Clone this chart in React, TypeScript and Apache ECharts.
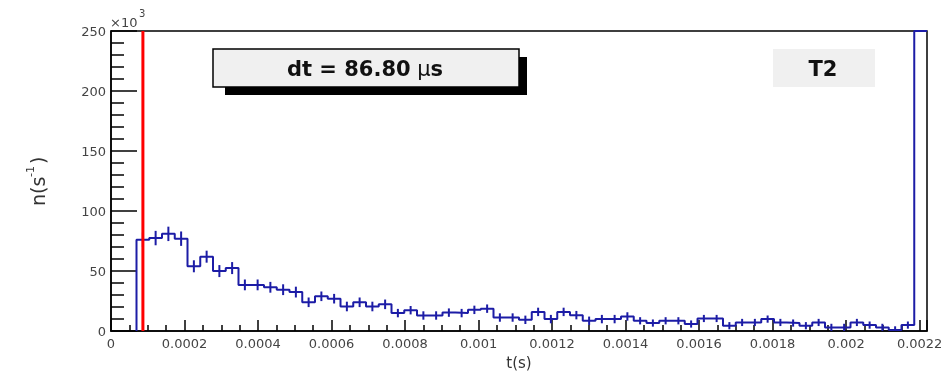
import React, { useEffect, useRef } from "react";
import * as echarts from "echarts";

// Histogram definition (x in seconds, y in units of 10^3 s^-1)
const xMin = 0;
const xMax = 0.00222;
const binCount = 64;

// bin contents (×10^3), bins 0..63
const counts = [
  0, 0, 76, 77.5, 81, 77, 54, 62, 50, 52.5,
  38.5, 38.5, 36.5, 34.5, 32.5, 24, 29, 27, 20.5, 24,
  20.5, 22.3, 15, 17.4, 13, 13, 15.4, 15, 17.7, 18.7,
  11.3, 11.3, 9.4, 16, 10, 16, 13.3, 8.6, 10, 10,
  12.2, 8.6, 6.7, 8.6, 8.6, 5.9, 10.5, 10.5, 4.5, 7.2,
  7.2, 10, 7.2, 6.7, 4.5, 7.2, 3.1, 3.1, 7.2, 5,
  3.1, 1, 5, 250,
];

// error bar half-heights (×10^3), bins 0..63
const errors = [
  0, 0, 6, 6, 6, 6, 5, 5, 5, 5,
  4.5, 4.5, 4.5, 4.5, 4.5, 4, 4, 4, 4, 4,
  4, 4, 3.5, 3.5, 3.5, 3.5, 3.5, 3.5, 3.5, 3.5,
  3.5, 3.5, 3.5, 3.5, 3.5, 3.5, 3.5, 3.5, 3.5, 3.5,
  3.5, 3, 3, 3, 3, 3, 3, 3, 3, 3,
  3, 3, 3, 3, 3, 3, 3, 3, 3, 3,
  3, 3, 3, 0,
];

const dtSeconds = 86.8e-6;
const dtLabel = "dt = 86.80";
const panelLabel = "T2";
const xTitle = "t(s)";
const yMin = 0;
const yMax = 250;
const xInterval = 0.0002;
const yInterval = 50;

const FONT = "DejaVu Sans";
const HIST_COLOR = "#1c1ca6";

function fmtX(v: number): string {
  if (v === 0) return "0";
  return String(parseFloat(v.toPrecision(6)));
}

export default function App() {
  const ref = useRef<HTMLDivElement>(null);
  useEffect(() => {
    if (!ref.current) return;
    const chart = echarts.init(ref.current, null, { renderer: "svg" });
    const w = (xMax - xMin) / binCount;
    const first = counts.findIndex((v) => v > 0);
    const stepData: number[][] = [[xMin + first * w, 0]];
    for (let i = first; i < binCount; i++) {
      stepData.push([xMin + i * w, counts[i]]);
      stepData.push([xMin + (i + 1) * w, counts[i]]);
    }
    const errData = counts
      .map((v, i) => [xMin + (i + 0.5) * w, v, errors[i]])
      .filter((d) => d[2] > 0 && d[1] < yMax);

    const axisBlack = { color: "#000", width: 1.5 };

    chart.setOption({
      animation: false,
      grid: {
        left: 111,
        right: 22,
        top: 31,
        bottom: 39,
        show: true,
        borderColor: "#000",
        borderWidth: 1.5,
      },
      xAxis: {
        type: "value",
        min: xMin,
        max: xMax,
        interval: xInterval,
        axisLine: { show: true, onZero: false, lineStyle: axisBlack },
        axisTick: { show: true, inside: true, length: 11, lineStyle: axisBlack },
        minorTick: { show: true, splitNumber: 4, length: 6, lineStyle: axisBlack },
        splitLine: { show: false },
        minorSplitLine: { show: false },
        axisLabel: {
          fontFamily: FONT,
          fontSize: 13,
          color: "#444",
          margin: 6,
          showMaxLabel: false,
          formatter: (v: number) => fmtX(v),
        },
        name: xTitle,
        nameLocation: "middle",
        nameGap: 20,
        nameTextStyle: { fontFamily: FONT, fontSize: 15, color: "#333" },
      },
      yAxis: {
        type: "value",
        min: yMin,
        max: yMax,
        interval: yInterval,
        axisLine: { show: true, onZero: false, lineStyle: axisBlack },
        axisTick: { show: true, inside: true, length: 26, lineStyle: axisBlack },
        minorTick: { show: true, splitNumber: 5, length: 13, lineStyle: axisBlack },
        splitLine: { show: false },
        minorSplitLine: { show: false },
        axisLabel: {
          fontFamily: FONT,
          fontSize: 13,
          color: "#444",
          margin: 5,
        },
      },
      series: [
        {
          type: "line",
          data: stepData,
          showSymbol: false,
          symbol: "none",
          clip: true,
          lineStyle: { color: HIST_COLOR, width: 2 },
          z: 3,
        },
        {
          type: "custom",
          data: errData,
          encode: { x: 0, y: 1 },
          clip: true,
          z: 3,
          renderItem: (_params: any, api: any) => {
            const x = api.value(0);
            const y = api.value(1);
            const e = api.value(2);
            const p1 = api.coord([x, y - e]);
            const p2 = api.coord([x, y + e]);
            return {
              type: "line",
              shape: { x1: p1[0], y1: p1[1], x2: p2[0], y2: p2[1] },
              style: { stroke: HIST_COLOR, lineWidth: 2 },
            };
          },
        },
        {
          type: "line",
          data: [
            [dtSeconds, yMin],
            [dtSeconds, yMax],
          ],
          showSymbol: false,
          symbol: "none",
          lineStyle: { color: "#ff0000", width: 3 },
          z: 4,
        },
      ],
      graphic: [
        {
          type: "text",
          left: 110,
          top: 16,
          style: { text: "×10", fontFamily: FONT, fontSize: 13, fill: "#444" },
        },
        {
          type: "text",
          left: 139,
          top: 8,
          style: { text: "3", fontFamily: FONT, fontSize: 10, fill: "#444" },
        },
        {
          type: "group",
          x: 38,
          y: 181,
          rotation: Math.PI / 2,
          children: [
            {
              type: "text",
              x: -25,
              y: 0,
              style: {
                text: "n(s",
                fontFamily: FONT,
                fontSize: 19,
                fill: "#333",
                textAlign: "left",
                textVerticalAlign: "middle",
              },
            },
            {
              type: "text",
              x: 4,
              y: -8,
              style: {
                text: "-1",
                fontFamily: FONT,
                fontSize: 11,
                fill: "#333",
                textAlign: "left",
                textVerticalAlign: "middle",
              },
            },
            {
              type: "text",
              x: 17,
              y: 0,
              style: {
                text: ")",
                fontFamily: FONT,
                fontSize: 19,
                fill: "#333",
                textAlign: "left",
                textVerticalAlign: "middle",
              },
            },
          ],
        },
        {
          type: "rect",
          shape: { x: 225, y: 57, width: 302, height: 38 },
          style: { fill: "#000" },
          z: 10,
        },
        {
          type: "rect",
          shape: { x: 213, y: 49, width: 306, height: 38 },
          style: { fill: "#f0f0f0", stroke: "#000", lineWidth: 1.5 },
          z: 11,
        },
        {
          type: "text",
          x: 365,
          y: 69,
          z: 12,
          style: {
            text: "{b|" + dtLabel + "}  {m|µ}{b|s}",
            textAlign: "center",
            textVerticalAlign: "middle",
            rich: {
              b: { fontFamily: FONT, fontWeight: "bold", fontSize: 21, fill: "#111" },
              m: { fontFamily: FONT, fontWeight: "normal", fontSize: 21, fill: "#111" },
            },
          },
        },
        {
          type: "rect",
          shape: { x: 773, y: 49, width: 102, height: 38 },
          style: { fill: "#f0f0f0" },
          z: 10,
        },
        {
          type: "text",
          x: 823,
          y: 69,
          z: 12,
          style: {
            text: panelLabel,
            fontFamily: FONT,
            fontWeight: "bold",
            fontSize: 21,
            fill: "#111",
            textAlign: "center",
            textVerticalAlign: "middle",
          },
        },
      ],
    });
    return () => chart.dispose();
  }, []);
  return (
    <div
      ref={ref}
      style={{ position: "fixed", left: 0, top: 0, width: 949, height: 375 }}
    />
  );
}
